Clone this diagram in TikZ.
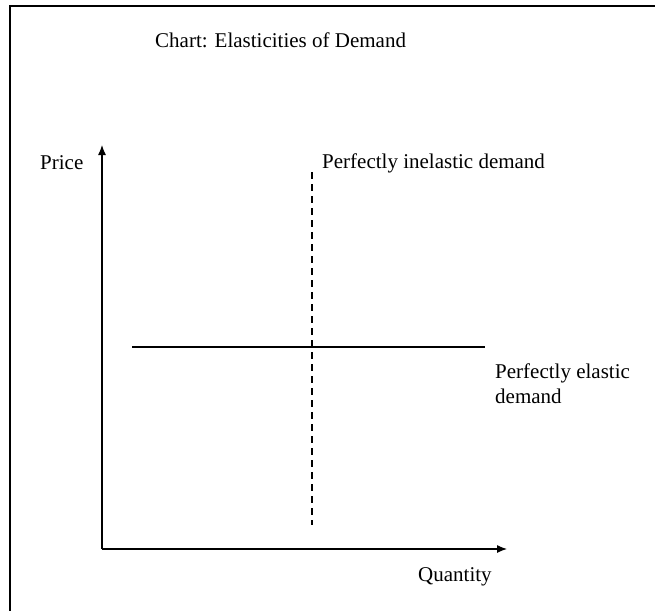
\documentclass[tikz,border=0pt]{standalone}
\usepackage{fontspec}
\setmainfont{Liberation Serif}
\usetikzlibrary{arrows.meta}

\begin{document}
\begin{tikzpicture}[
x=1pt, y=-1pt,
label text/.style={inner sep=0pt, anchor=west, font=\fontsize{21}{25}\selectfont},
axis/.style={line width=1.2pt, -{Latex[length=10pt,width=8pt]}},
demand/.style={line width=1.3pt},
]
\useasboundingbox (0,0) rectangle (655,610);
\draw[line width=2pt] (10,615) -- (10,6) -- (660,6);
\node[label text] (title) at (155,40) {Chart: Elasticities of Demand};
\coordinate (O) at (102,549);
\coordinate (top) at (102,145);
\coordinate (right) at (507,549);
\draw[axis] (O) -- (top);
\draw[axis] (O) -- (right);
\node[label text] (price) at (40,163) {Price};
\node[label text] (quantity) at (418,577) {Quantity};
\coordinate (A) at (312,172);
\coordinate (B) at (312,525);
\draw[demand, dash pattern=on 7pt off 5pt] (A) -- (B);
\node[label text] (inelastic) at (322,163) {Perfectly inelastic demand};
\coordinate (C) at (132,347);
\coordinate (D) at (485,347);
\draw[demand] (C) -- (D);
\node[label text, align=left] (elastic) at (495,384) {Perfectly elastic\\demand};
\end{tikzpicture}
\end{document}
